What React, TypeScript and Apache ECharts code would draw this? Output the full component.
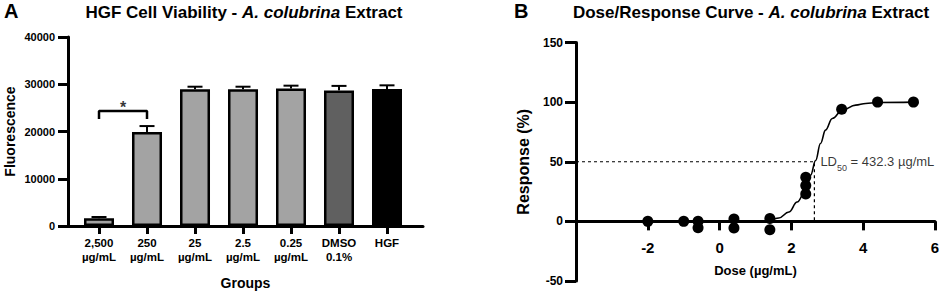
import React, { useEffect, useRef } from "react";
import * as echarts from "echarts";

const FONT = '"Liberation Sans", Arial, Helvetica, sans-serif';

// ---------- Panel A data ----------
const groupLabels = ["2,500\nµg/mL", "250\nµg/mL", "25\nµg/mL", "2.5\nµg/mL", "0.25\nµg/mL", "DMSO\n0.1%", "HGF"];
const groupIndex = [0, 1, 2, 3, 4, 5, 6];
const groupMeans = [1650, 19900, 28950, 28950, 29100, 28700, 29000];
const groupErrors = [250, 1250, 530, 530, 600, 950, 770];
const groupColors = ["#a3a3a3", "#a3a3a3", "#a3a3a3", "#a3a3a3", "#a3a3a3", "#606060", "#000000"];
const bracketX = [0, 0, 1, 1];
const bracketY = [22650, 24330, 24330, 22650];
const starX = [0.5];
const starY = [24330];

// ---------- Panel B data ----------
const pointDose = [-2, -1, -0.6, -0.6, 0.4, 0.4, 1.4, 1.4, 2.4, 2.4, 2.4, 3.4, 4.4, 5.4];
const pointResp = [0, 0, 0, -5.3, 2, -5.5, 2.5, -7, 37, 30, 23, 94, 100, 100];
const curveDose = [1.4, 1.65, 1.93, 2.16, 2.4, 2.535, 2.674, 2.81, 2.95, 3.14, 3.42, 3.79, 4.07, 4.39, 5.4];
const curveResp = [0, 2.8, 7.8, 16.2, 26, 38.7, 51, 65.3, 76.5, 86.3, 93.3, 97.5, 98.9, 99.7, 100];
const ld50Log = 2.64;
const ld50Resp = 50;
const doseMin = -4;
const respMin = -50;
const respMax = 150;

export default function App() {
  const ref = useRef<HTMLDivElement>(null);

  useEffect(() => {
    const chart = echarts.init(ref.current!, null, { renderer: "svg" });
    const axisLineStyle = { color: "#000", width: 3 };
    const gridBHeight = 238.5;
    // the x axis of panel B crosses the y axis at response 0
    const zeroOffset = -gridBHeight * (0 - respMin) / (respMax - respMin);
    const option: any = {
      animation: false,
      backgroundColor: "#fff",
      textStyle: { fontFamily: FONT },
      graphic: [
        {
          type: "text", x: 4, y: 10.5,
          style: { text: "A", font: `bold 20px ${FONT}`, fill: "#000", align: "left", verticalAlign: "middle", textAlign: "left", textVerticalAlign: "middle" },
        },
        {
          type: "text", x: 514, y: 10.5,
          style: { text: "B", font: `bold 20px ${FONT}`, fill: "#000", align: "left", verticalAlign: "middle", textAlign: "left", textVerticalAlign: "middle" },
        },
        {
          type: "text", x: 244, y: 12.5,
          style: {
            text: "{b|HGF Cell Viability - }{i|A. colubrina}{b| Extract}",
            rich: {
              b: { fontSize: 17, fontWeight: "bold", fontFamily: FONT, fill: "#000", color: "#000" },
              i: { fontSize: 17, fontWeight: "bold", fontStyle: "italic", fontFamily: FONT, fill: "#000", color: "#000" },
            },
            align: "center", verticalAlign: "middle", textAlign: "center", textVerticalAlign: "middle",
          },
        },
        {
          type: "text", x: 751, y: 12.5,
          style: {
            text: "{b|Dose/Response Curve - }{i|A. colubrina}{b| Extract}",
            rich: {
              b: { fontSize: 17, fontWeight: "bold", fontFamily: FONT, fill: "#000", color: "#000" },
              i: { fontSize: 17, fontWeight: "bold", fontStyle: "italic", fontFamily: FONT, fill: "#000", color: "#000" },
            },
            align: "center", verticalAlign: "middle", textAlign: "center", textVerticalAlign: "middle",
          },
        },
      ],
      grid: [
        { left: 68, top: 37, width: 355, height: 189, outerBoundsMode: "none", containLabel: false },
        { left: 576, top: 42.5, width: 359, height: gridBHeight, outerBoundsMode: "none", containLabel: false },
      ],
      xAxis: [
        {
          gridIndex: 0, type: "value", min: -0.646, max: 6.75,
          splitLine: { show: false },
          axisLine: { show: true, onZero: false, lineStyle: axisLineStyle },
          axisTick: { show: true, customValues: groupIndex, length: 8, lineStyle: { color: "#000", width: 3 } },
          axisLabel: {
            customValues: groupIndex,
            formatter: (v: number) => groupLabels[Math.round(v)] ?? "",
            color: "#000", fontWeight: "bold", fontSize: 11.5, lineHeight: 14, margin: 10, fontFamily: FONT,
          },
          name: "Groups", nameLocation: "middle", nameGap: 50,
          nameTextStyle: { color: "#000", fontWeight: "bold", fontSize: 14, fontFamily: FONT },
        },
        {
          gridIndex: 1, type: "value", min: doseMin, max: 6, interval: 2,
          position: "bottom", offset: zeroOffset,
          splitLine: { show: false },
          axisLine: { show: true, onZero: false, lineStyle: axisLineStyle },
          axisTick: { show: true, length: 9, lineStyle: { color: "#000", width: 3 } },
          axisLabel: {
            formatter: (v: number) => (v === doseMin ? "" : String(v)),
            color: "#000", fontWeight: "bold", fontSize: 15, margin: 19, fontFamily: FONT,
          },
          name: "Dose (µg/mL)", nameLocation: "middle", nameGap: 43,
          nameTextStyle: { color: "#000", fontWeight: "bold", fontSize: 13, fontFamily: FONT },
        },
      ],
      yAxis: [
        {
          gridIndex: 0, type: "value", min: 0, max: 40000, interval: 10000,
          splitLine: { show: false },
          axisLine: { show: true, onZero: false, lineStyle: axisLineStyle },
          axisTick: { show: true, length: 10, lineStyle: { color: "#000", width: 3 } },
          axisLabel: { formatter: (v: number) => String(v), color: "#000", fontWeight: "bold", fontSize: 11, margin: 13, fontFamily: FONT },
          name: "Fluorescence", nameLocation: "middle", nameGap: 51,
          nameTextStyle: { color: "#000", fontWeight: "bold", fontSize: 14, fontFamily: FONT },
        },
        {
          gridIndex: 1, type: "value", min: respMin, max: respMax, interval: 50,
          splitLine: { show: false },
          axisLine: { show: true, onZero: false, lineStyle: axisLineStyle },
          axisTick: { show: true, length: 11, lineStyle: { color: "#000", width: 3 } },
          axisLabel: { formatter: (v: number) => String(v), color: "#000", fontWeight: "bold", fontSize: 12, margin: 13, fontFamily: FONT },
          name: "Response (%)", nameLocation: "middle", nameGap: 45,
          nameTextStyle: { color: "#000", fontWeight: "bold", fontSize: 16, fontFamily: FONT },
        },
      ],
      series: [
        {
          type: "bar", xAxisIndex: 0, yAxisIndex: 0, barWidth: 30,
          itemStyle: { borderColor: "#000", borderWidth: 2.5 },
          data: groupMeans.map((m, i) => ({ value: [groupIndex[i], m], itemStyle: { color: groupColors[i] } })),
          z: 2,
        },
        {
          type: "custom", xAxisIndex: 0, yAxisIndex: 0, z: 3,
          data: groupMeans.map((m, i) => [groupIndex[i], m, groupErrors[i]]),
          renderItem: (params: any, api: any) => {
            const x = api.value(0);
            const m = api.value(1);
            const e = api.value(2);
            const top = api.coord([x, m + e]);
            const base = api.coord([x, m]);
            const style = { stroke: "#000", lineWidth: 2 };
            return {
              type: "group",
              children: [
                { type: "line", shape: { x1: base[0], y1: base[1], x2: top[0], y2: top[1] }, style },
                { type: "line", shape: { x1: top[0] - 7.5, y1: top[1], x2: top[0] + 7.5, y2: top[1] }, style },
              ],
            };
          },
        },
        {
          type: "line", xAxisIndex: 0, yAxisIndex: 0, symbol: "none", z: 3,
          lineStyle: { color: "#000", width: 2.5 },
          data: bracketX.map((x, i) => [x, bracketY[i]]),
        },
        {
          type: "scatter", xAxisIndex: 0, yAxisIndex: 0, symbolSize: 0, z: 3,
          data: starX.map((x, i) => [x, starY[i]]),
          label: { show: true, position: "inside", offset: [0, -3.5], formatter: "*", color: "#000", fontSize: 16, fontWeight: "bold", fontFamily: FONT },
        },
        {
          type: "line", xAxisIndex: 1, yAxisIndex: 1, symbol: "none", z: 2,
          lineStyle: { color: "#000", width: 1.2, type: [3, 3] },
          data: [[doseMin, ld50Resp], [ld50Log, ld50Resp], [ld50Log, 0]],
        },
        {
          type: "line", xAxisIndex: 1, yAxisIndex: 1, symbol: "none", smooth: 0.4, smoothMonotone: "x", z: 3,
          lineStyle: { color: "#000", width: 1.6 },
          data: curveDose.map((x, i) => [x, curveResp[i]]),
        },
        {
          type: "scatter", xAxisIndex: 1, yAxisIndex: 1, symbol: "circle", symbolSize: 11, z: 4,
          itemStyle: { color: "#000", opacity: 1 },
          data: pointDose.map((x, i) => [x, pointResp[i]]),
        },
        {
          type: "scatter", xAxisIndex: 1, yAxisIndex: 1, symbolSize: 0, z: 4,
          data: [[ld50Log, ld50Resp]],
          label: {
            show: true, position: "right", distance: 6,
            formatter: "{a|LD}{s|50}{a| = 432.3 µg/mL}",
            rich: {
              a: { fontSize: 13, lineHeight: 22, color: "#000", fontFamily: FONT },
              s: { fontSize: 9, lineHeight: 10, verticalAlign: "bottom", color: "#000", fontFamily: FONT },
            },
          },
        },
      ],
    };
    chart.setOption(option);
    return () => chart.dispose();
  }, []);

  return (
    <div
      ref={ref}
      style={{ position: "absolute", left: 0, top: 0, width: 941, height: 293, background: "#fff" }}
    />
  );
}
